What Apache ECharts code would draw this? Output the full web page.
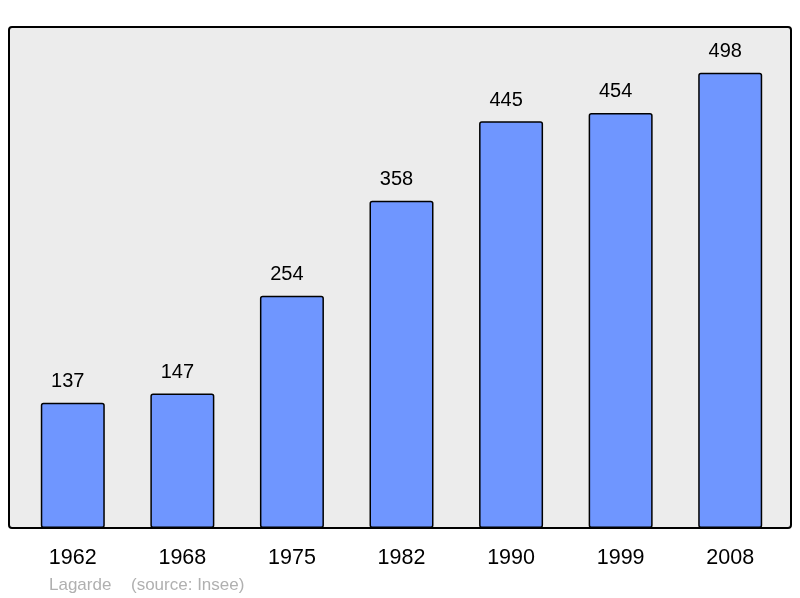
<!DOCTYPE html>
<html><head><meta charset="utf-8">
<script src="https://cdn.jsdelivr.net/npm/echarts@6/dist/echarts.min.js"></script>
<style>html,body{margin:0;padding:0;background:#fff}#c{width:800px;height:598px}</style>
</head><body><div id="c"></div>
<script>
const categories = ['1962','1968','1975','1982','1990','1999','2008'];
const population = [137,147,254,358,445,454,498];
const commune = 'Lagarde';
const source = '(source: Insee)';

const chart = echarts.init(document.getElementById('c'));
chart.setOption({
  animation: false,
  backgroundColor: '#fff',
  textStyle: {fontFamily: 'Liberation Sans, Arial, sans-serif'},
  grid: {left: 18, right: 15, top: 27, bottom: 70},
  graphic: [
    {type: 'rect', z: -10, shape: {x: 9, y: 27, width: 782, height: 501, r: 3},
     style: {fill: '#ececec', stroke: '#000', lineWidth: 2}},
    {type: 'text', left: 49, top: 577, style: {text: commune, fill: '#b0b0b0', fontSize: 17, fontFamily: 'Liberation Sans, Arial, sans-serif'}},
    {type: 'text', left: 131, top: 577, style: {text: source, fill: '#b0b0b0', fontSize: 17, fontFamily: 'Liberation Sans, Arial, sans-serif'}}
  ],
  xAxis: {
    type: 'category', data: categories,
    axisLine: {show: false}, axisTick: {show: false},
    axisLabel: {color: '#000', fontSize: 21.5, margin: 19}
  },
  yAxis: {type: 'value', min: 0, max: 548, show: false, splitLine: {show: false}},
  series: [{
    type: 'bar', data: population, barWidth: 64,
    itemStyle: {color: '#6f96ff', borderColor: '#000', borderWidth: 1.5, borderRadius: 2},
    label: {show: true, position: 'top', distance: 11, offset: [-5, 0], color: '#000', fontSize: 20}
  }]
});
</script></body></html>
